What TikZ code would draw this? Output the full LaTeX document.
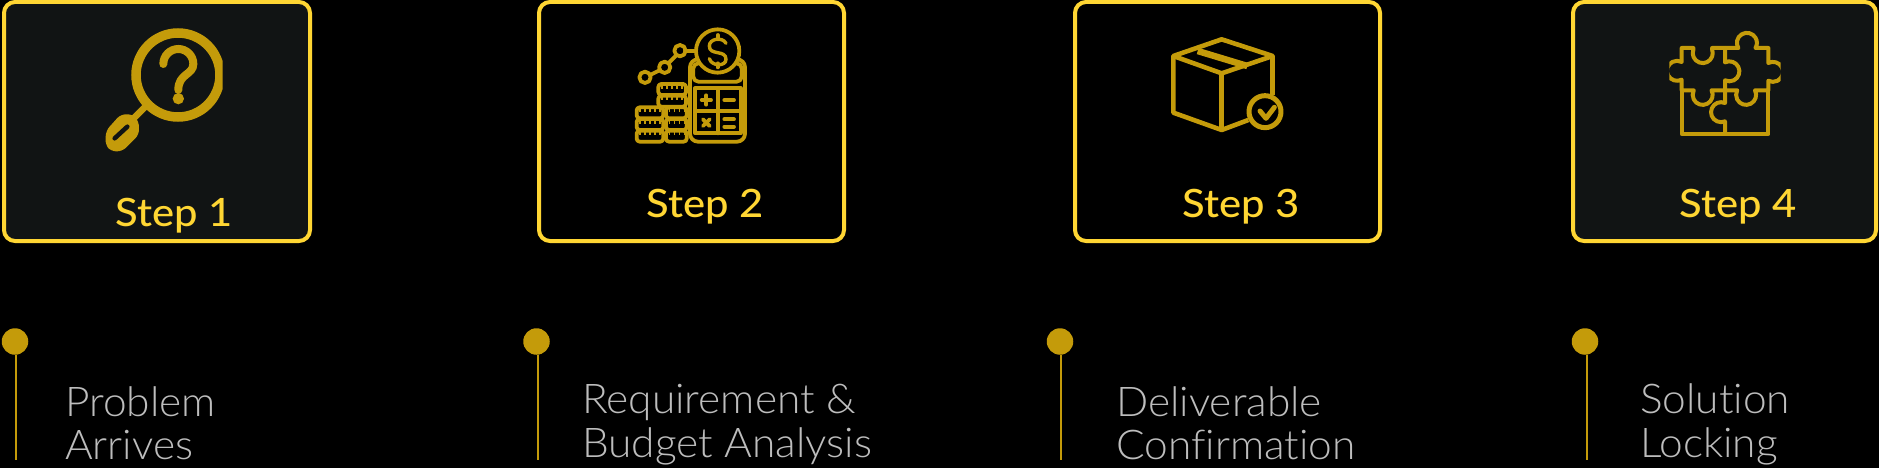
\documentclass[tikz,border=0pt]{standalone}
\usepackage{fontspec}
\setmainfont[FakeStretch=1.07]{Lato Medium}
\newfontfamily\thinfont[FakeStretch=1.035, Ligatures=NoCommon]{Lato Light}
\usepackage{tikz}
\usetikzlibrary{positioning}
\definecolor{stepyellow}{HTML}{FFD633}
\definecolor{icongold}{HTML}{C49B0A}
\definecolor{paneldark}{HTML}{111414}
\definecolor{captiongray}{HTML}{BDBDBD}
\tikzset{
	stepbox/.style={draw=stepyellow, line width=4pt, rounded corners=11pt, inner sep=0pt, outer sep=0pt, anchor=north west},
	steplabel/.style={text=stepyellow, anchor=base, inner sep=0pt, font=\fontsize{39}{39}\selectfont},
	caption/.style={text=captiongray, anchor=base west, inner sep=0pt, font=\thinfont\fontsize{41}{41}\selectfont},
	pindot/.style={circle, fill=icongold, minimum size=26.5pt, inner sep=0pt},
	pinline/.style={icongold, line width=2pt},
	iconline/.style={icongold, line width=3.8pt, line cap=round, line join=round},
}
\begin{document}
\begin{tikzpicture}[x=1pt, y=-1pt]
	\fill [black] (0,0) rectangle (1879,468);
	\useasboundingbox (0,0) rectangle (1879,468);

	\node [stepbox, fill=paneldark, minimum width=306pt, minimum height=239pt] (box1) at (4,2) {};
	\node [stepbox, fill=black, minimum width=305pt, minimum height=239pt] (box2) at (539,2) {};
	\node [stepbox, fill=black, minimum width=305pt, minimum height=239pt] (box3) at (1075,2) {};
	\node [stepbox, fill=paneldark, minimum width=303pt, minimum height=239pt] (box4) at (1573,2) {};

	\node [steplabel] (step1) at (174,226) {Step 1};
	\node [steplabel] (step2) at (705,217) {Step 2};
	\node [steplabel] (step3) at (1241,217) {Step 3};
	\node [steplabel] (step4) at (1738,217) {Step 4};

	\foreach \i/\x/\dx in {1/15/16, 2/536.5/538, 3/1060/1061, 4/1585/1587}{
		\node [pindot] (dot\i) at (\x,341.5) {};
		\coordinate (end\i) at (\dx,460);
		\draw [pinline] (end\i |- dot\i.south) -- (end\i);
	}

	\node [caption] (problem) at (65,416) {Problem};
	\node [caption] (arrives) at (65,459) {Arrives};
	\node [caption] (requirement) at (582,413) {Requirement \&};
	\node [caption] (budget) at (582,457) {Budget Analysis};
	\node [caption] (deliverable) at (1116,416) {Deliverable};
	\node [caption] (confirmation) at (1116,459) {Confirmation};
	\node [caption] (solution) at (1640,413) {Solution};
	\node [caption] (locking) at (1640,457) {Locking};

	% magnifier
	\begin{scope}
		\clip (100,20) rectangle (222.5,160);
		\draw [icongold, line width=9.5pt] (178,75) circle (42);
	\end{scope}
	\draw [icongold, line width=6.5pt] (146,106) -- (128,124);
	\begin{scope}[scale=1/3]
		\fill [icongold, rounded corners=5pt] (318,392) -- (362,343) -- (399,343) -- (417,366) -- (417,404) -- (367,454) -- (333,454) -- (316,434) -- cycle;
		\draw [paneldark, line width=4.5pt, line cap=round] (344,415) -- (382,380);
		\draw [icongold, line width=8pt, line cap=round] (490,192) arc[start angle=180, end angle=360, radius=45] .. controls (580,225) and (535,220) .. (535,270);
		\fill [icongold] (535,296) circle (17);
	\end{scope}

	% calculator and coins
	\begin{scope}[shift={(630,20)}, scale=1/3]
		\draw [iconline, rounded corners=8pt] (180,118) rectangle (345,365);
		\draw [iconline, rounded corners=5pt] (190,130) rectangle (335,185);
		\draw [iconline] (195,205) rectangle (332,340);
		\draw [iconline] (263,205) -- (263,340);
		\draw [iconline] (195,272) -- (332,272);
		\draw [iconline, fill=black] (263,93) circle (65);
		\draw [icongold, line width=3.4pt, line cap=round] (288,70) .. controls (278,50) and (238,55) .. (238,78) .. controls (238,108) and (288,88) .. (288,118) .. controls (288,140) and (245,140) .. (238,116);
		\draw [iconline] (263,45) -- (263,58);
		\draw [iconline] (263,130) -- (263,142);
		\draw [iconline] (215,240) -- (243,240);
		\draw [iconline] (229,226) -- (229,254);
		\draw [iconline] (283,240) -- (312,240);
		\draw [iconline] (219,298) -- (239,318);
		\draw [iconline] (239,298) -- (219,318);
		\draw [iconline] (283,298) -- (312,298);
		\draw [iconline] (283,320) -- (312,320);
		\draw [iconline] (45,172) circle (17);
		\draw [iconline] (104,142) circle (17);
		\draw [iconline] (150,92) circle (17);
		\draw [iconline] (60,165) -- (90,150);
		\draw [iconline] (115,130) -- (140,105);
		\draw [iconline] (165,92) -- (198,92);
		\foreach \xa/\xb/\y in {85/168/192, 85/168/227, 20/100/262, 20/100/297, 20/100/332, 108/170/262, 108/170/297, 108/170/332}{
			\draw [iconline, rounded corners=3pt] (\xa,\y) rectangle (\xb,\y+33);
			\draw [icongold, line width=3pt, dash pattern=on 1.5pt off 3.5pt] (\xa+8,\y+10) -- (\xb-6,\y+10);
		}
	\end{scope}

	% parcel
	\begin{scope}[shift={(1160,30)}, scale=1/3]
		\draw [icongold, line width=4.6pt, line join=round] (185,28) -- (338,78) -- (185,130) -- (40,78) -- cycle;
		\draw [icongold, line width=4.6pt, line join=round] (40,78) -- (40,248) -- (185,300) -- (265,270);
		\draw [icongold, line width=4.6pt] (185,130) -- (185,300);
		\draw [icongold, line width=4.6pt] (338,78) -- (338,195);
		\draw [icongold, line width=6.5pt] (113,63) -- (262,108);
		\clip (240,170) rectangle (370,310);
		\draw [icongold, line width=5pt] (315,245) circle (48);
		\draw [icongold, line width=5pt, line cap=round, line join=round] (300,243) -- (318,265) -- (343,232);
	\end{scope}

	% puzzle
	\begin{scope}[shift={(1660,28)}, scale=1/3]
		\clip (28,0) rectangle (362,340);
		\draw [icongold, line width=4pt, line join=round] (65,60) -- (100,60) -- (100,65) arc[start angle=200, end angle=-20, radius=30] -- (156,60) -- (195,60) -- (195,103) arc[start angle=244, end angle=476, radius=30] -- (195,187) -- (156,187) -- (154.7,187) arc[start angle=-27, end angle=207, radius=30] -- (101,187) -- (65,187) -- (65,155) arc[start angle=62.5, end angle=297.5, radius=30] -- cycle;
		\draw [icongold, line width=4pt, line join=round] (195,60) -- (235,60) arc[start angle=149, end angle=391, radius=30] -- (325,60) -- (325,105) arc[start angle=242.5, end angle=477.5, radius=30] -- (325,187) -- (285,187) arc[start angle=-27, end angle=207, radius=30] -- (230,187) -- (195,187);
		\draw [icongold, line width=4pt, line join=round] (65,187) -- (65,318) -- (325,318) -- (325,187);
		\draw [icongold, line width=4pt, line join=round] (195,187) -- (195,225) arc[start angle=293.4, end angle=66.6, radius=30] -- (195,318);
	\end{scope}
\end{tikzpicture}
\end{document}
